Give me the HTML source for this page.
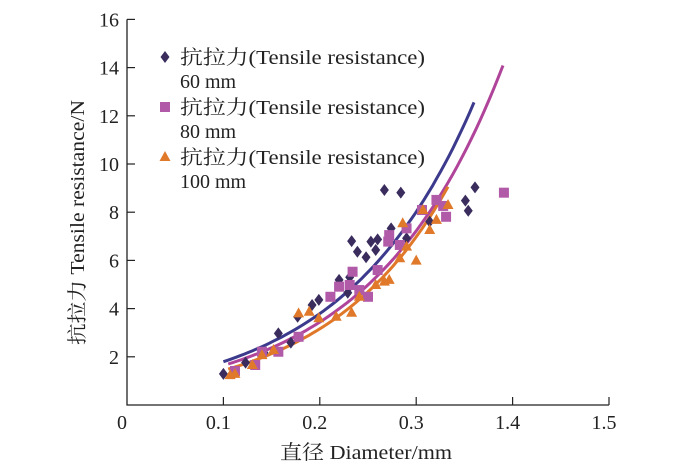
<!DOCTYPE html>
<html><head><meta charset="utf-8"><style>
body{margin:0;background:#fff}
svg{display:block;font-family:"Liberation Serif","Noto Serif CJK SC",serif}
</style></head><body>
<svg id="chart" width="700" height="465" viewBox="0 0 700 465">
<g id="axes"></g><g id="curves"></g><g id="marks"></g><g id="legend"></g>
</svg>
<script>
const xTickValues=[0,0.1,0.2,0.3,0.4,0.5];
const xTickLabels=["0","0.1","0.2","0.3","1.4","1.5"];
const yTickValues=[2,4,6,8,10,12,14,16];
const s60x=[.100,.123,.142,.157,.170,.177,.192,.199,.220,.231,.229,.233,.239,.248,.253,.258,.260,.267,.284,.274,.290,.314,.351,.354,.361];
const s60y=[1.29,1.76,2.17,2.97,2.59,3.66,4.15,4.36,5.19,5.30,4.66,6.80,6.36,6.13,6.78,6.43,6.87,8.92,8.81,7.33,6.92,7.61,8.48,8.06,9.03];
const s80x=[.112,.133,.140,.157,.178,.211,.220,.231,.234,.241,.250,.260,.271,.272,.283,.290,.306,.321,.328,.331,.391];
const s80y=[1.41,1.66,2.21,2.21,2.83,4.49,4.91,4.98,5.53,4.77,4.49,5.60,6.78,7.05,6.64,7.33,8.09,8.51,8.26,7.81,8.81];
const s100x=[.107,.112,.130,.140,.152,.178,.189,.199,.217,.233,.241,.258,.267,.272,.283,.286,.290,.300,.307,.314,.321,.333];
const s100y=[1.24,1.29,1.66,2.07,2.28,3.80,3.87,3.60,3.66,3.83,4.49,4.98,5.12,5.19,6.09,7.54,6.57,5.99,8.09,7.26,7.68,8.30];
const fitA=[0.85,0.78,0.65];
const fitB=[7.48,7.42,7.91];
const fitStart=[0.100,0.105,0.105];
const fitEnd=[0.360,0.390,0.333];

const NS="http://www.w3.org/2000/svg";
const X0=127,XS=964,Y0=405,YS=24.1;
const sx=v=>X0+v*XS, sy=v=>Y0-v*YS;
function mk(tag,attrs,parent,text){const e=document.createElementNS(NS,tag);for(const k in attrs)e.setAttribute(k,attrs[k]);if(text!==undefined)e.textContent=text;parent.appendChild(e);return e;}
const axes=document.getElementById('axes');
let a=mk('path',{d:`M${X0},${sy(16)}H${X0}V${Y0}H${sx(0.5)}`,stroke:'#222',fill:'none','stroke-width':1.3},axes);


xTickValues.forEach((v,i)=>{
  if(v>0){const t=mk('line',{x1:sx(v),x2:sx(v),y1:Y0,y2:Y0-8,stroke:'#222','stroke-width':1.2},axes);
  
  }
  const l=mk('text',{x:sx(v)-5,y:Y0+24,'text-anchor':'middle','font-size':20,fill:'#222'},axes,xTickLabels[i]);
  
  
});
yTickValues.forEach(v=>{
  const t=mk('line',{x1:X0,x2:X0+8,y1:sy(v),y2:sy(v),stroke:'#222','stroke-width':1.2},axes);
  
  
  const l=mk('text',{x:X0-8,y:sy(v)+7,'text-anchor':'end','font-size':20,fill:'#222'},axes,String(v));
  
  
});
let xt=mk('text',{x:280,y:459,'font-size':20,fill:'#222',textLength:172,lengthAdjust:'spacingAndGlyphs'},axes,'直径 Diameter/mm');


let yt=mk('text',{x:-345,y:0,'font-size':20,fill:'#222',textLength:245,lengthAdjust:'spacingAndGlyphs',transform:'translate(84,0) rotate(-90)'},axes,'抗拉力 Tensile resistance/N');



const colors=['#3c3a8c','#b0449a','#e0782a'];
const curves=document.getElementById('curves');
for(let k=0;k<3;k++){
  let d='';
  for(let i=0;i<=60;i++){const x=fitStart[k]+(fitEnd[k]-fitStart[k])*i/60;const y=fitA[k]*Math.exp(fitB[k]*x);d+=(i?'L':'M')+sx(x).toFixed(1)+','+sy(y).toFixed(1);}
  const p=mk('path',{d,stroke:colors[k],fill:'none','stroke-width':3},curves);
  
  
}
const marks=document.getElementById('marks');
function diamond(x,y,g,name){const e=mk('path',{d:`M${x},${y-6}L${x+4.5},${y}L${x},${y+6}L${x-4.5},${y}Z`,fill:'#3a2d5e'},g);}
function square(x,y,g,name){const e=mk('rect',{x:x-5,y:y-5,width:10,height:10,fill:'#b05aa8'},g);}
function tri(x,y,g,name){const e=mk('path',{d:`M${x},${y-6}L${x+5.5},${y+4}L${x-5.5},${y+4}Z`,fill:'#e07a2a'},g);}
s60x.forEach((v,i)=>diamond(sx(v),sy(s60y[i]),marks,'point-60mm'));
s80x.forEach((v,i)=>square(sx(v),sy(s80y[i]),marks,'point-80mm'));
s100x.forEach((v,i)=>tri(sx(v),sy(s100y[i]),marks,'point-100mm'));

const lg=document.getElementById('legend');
const legendLabels=['60 mm','80 mm','100 mm'];
const shapes=[diamond,square,tri];
legendLabels.forEach((lab,i)=>{
  const y0=57+i*50;
  const g=mk('g',{},lg);
  
  
  shapes[i](165,y0,g,'legend-marker');
  mk('text',{x:180,y:y0+7,'font-size':20,fill:'#222',textLength:245,lengthAdjust:'spacingAndGlyphs'},g,'抗拉力(Tensile resistance)');
  mk('text',{x:180,y:y0+31,'font-size':20,fill:'#222'},g,lab);
});
</script>
</body></html>
